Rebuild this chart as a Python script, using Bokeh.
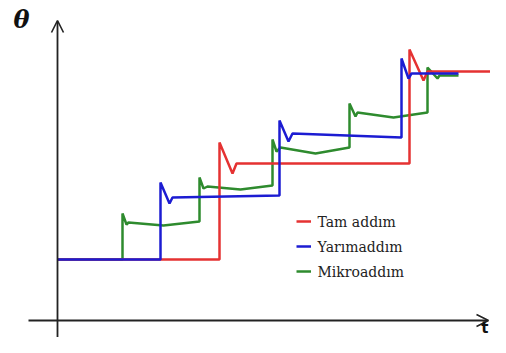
from bokeh.plotting import figure
from bokeh.models import Range1d, Arrow, OpenHead, Legend, LegendItem, Label
from bokeh.embed import file_html
from bokeh.resources import INLINE

# Schematic step responses: time t (arbitrary units) vs rotor angle theta (arbitrary units)
tam_t = [0, 162, 162, 175, 179, 352, 352, 366, 370, 443]
tam_theta = [61, 61, 178, 147, 157, 157, 271, 240, 249, 249]

yarim_t = [0, 103, 103, 112, 115, 222, 222, 231, 235, 344, 344, 351, 354, 401]
yarim_theta = [61, 61, 138, 117, 123, 125, 200, 179, 187, 183, 262, 242, 247, 247]

mikro_t = [0, 65, 65, 69, 71, 106, 142, 142, 146, 150, 183, 215, 215, 219, 223,
           258, 292, 292, 298, 300, 336, 370, 370, 380, 382, 401]
mikro_theta = [61, 61, 107, 96, 98, 95, 99, 143, 132, 134, 131, 135, 181, 169, 173,
               167, 173, 217, 204, 208, 203, 208, 253, 242, 245, 245]

labels = ["Tam addım", "Yarımaddım", "Mikroaddım"]
colors = ["#e53232", "#1c1cd2", "#2e8b2e"]

p = figure(width=490, height=337, x_range=Range1d(-57, 433), y_range=Range1d(-17, 320),
           x_axis_type=None, y_axis_type=None, output_backend="svg",
           toolbar_location=None, min_border=0)
p.grid.visible = False
p.outline_line_color = None
p.background_fill_color = "white"
p.border_fill_color = "white"

# axes as arrows
axis_color = "#222222"
p.add_layout(Arrow(end=OpenHead(size=12, line_color=axis_color, line_width=1.6),
                   x_start=0, y_start=-17, x_end=0, y_end=300,
                   line_color=axis_color, line_width=1.8))
p.add_layout(Arrow(end=OpenHead(size=12, line_color=axis_color, line_width=1.6),
                   x_start=-29, y_start=0, x_end=431, y_end=0,
                   line_color=axis_color, line_width=1.8))

rg = p.line(mikro_t, mikro_theta, line_color=colors[2], line_width=2.5)
rr = p.line(tam_t, tam_theta, line_color=colors[0], line_width=2.5)
rb = p.line(yarim_t, yarim_theta, line_color=colors[1], line_width=2.5)

p.add_layout(Label(x=-44, y=301, text="θ", text_font="DejaVu Serif",
                   text_font_style="bold italic", text_font_size="24px",
                   text_baseline="middle", text_color="#111111"))
p.add_layout(Label(x=431, y=-16, text="t", text_font="DejaVu Sans",
                   text_font_style="bold", text_font_size="15px",
                   text_baseline="bottom", text_align="right", text_color="#111111"))

# legend: glyphs from Bokeh's Legend, texts drawn as serif labels beside them
leg_x, leg_y, row_h = 296, 56, 25
legend = Legend(items=[LegendItem(label=labels[0], renderers=[rr]),
                       LegendItem(label=labels[1], renderers=[rb]),
                       LegendItem(label=labels[2], renderers=[rg])],
                location=(leg_x, leg_y), border_line_alpha=0, background_fill_alpha=0,
                label_text_alpha=0, label_text_font_size="16px",
                glyph_width=15, glyph_height=20,
                label_height=20, spacing=5, padding=0, margin=0, label_standoff=6)
p.add_layout(legend)
for i, lab in enumerate(labels):
    p.add_layout(Label(x=leg_x + 21, y=leg_y + 10 + (2 - i) * row_h, x_units="screen",
                       y_units="screen", text=lab, text_font="DejaVu Serif",
                       text_font_size="14px", text_baseline="middle",
                       text_color="#222222"))

open("out.html", "w").write(file_html(p, INLINE))
